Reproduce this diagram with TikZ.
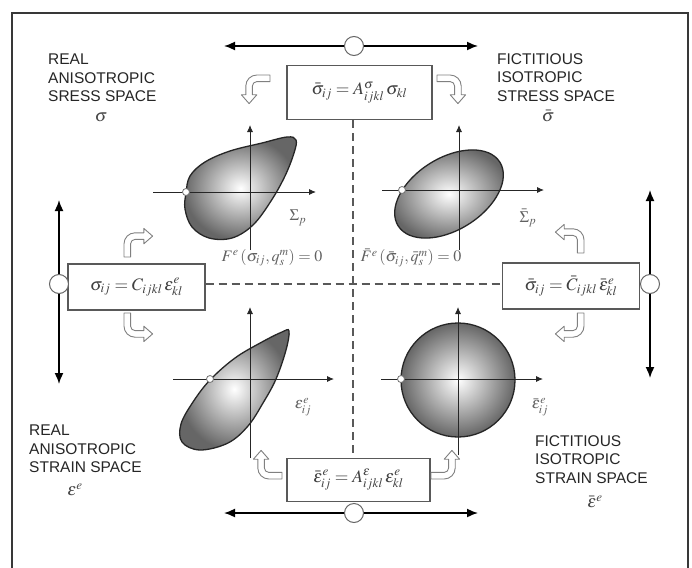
\documentclass[tikz,border=0pt]{standalone}
\usepackage{mathptmx}
\usepackage{fontspec}
\setmainfont{Liberation Sans}
\usetikzlibrary{arrows.meta}
\newcommand\eqfont{\fontsize{17.5}{20}\selectfont}
\begin{document}
\begin{tikzpicture}[x=1pt,y=-1pt,
  frameline/.style={draw=black!78,line width=1.5pt},
  dblarrow/.style={draw=black,line width=1.6pt,{Latex[length=11pt,width=9pt]}-{Latex[length=11pt,width=9pt]}},
  knob/.style={circle,draw=black!60,fill=white,line width=1pt,minimum size=19pt,inner sep=0pt},
  eqbox/.style={draw=black!65,fill=white,line width=1.3pt,inner sep=0pt,text=black!75,font=\eqfont},
  axisline/.style={draw=black!85,line width=0.9pt,-{Latex[length=7pt,width=6pt]}},
  surf/.style={draw=black!85,line width=1.3pt,inner color=white,outer color=black!60},
  ptmark/.style={circle,draw=black!55,fill=white,line width=0.8pt,minimum size=7pt,inner sep=0pt},
  dashline/.style={draw=black!65,line width=1.6pt,dash pattern=on 8pt off 5pt},
  bent/.style={draw=black!50,fill=white,line width=0.9pt,line join=round},
  spacelabel/.style={font=\fontsize{15.5}{18.5}\selectfont,text=black!85,align=left,anchor=north west,inner sep=0pt},
  symlabel/.style={text=black!72,font=\eqfont,inner sep=0pt},
  plotlabel/.style={text=black!62,font=\fontsize{16}{18}\selectfont,inner sep=0pt},
  flabel/.style={text=black!62,font=\fontsize{16}{18}\selectfont,inner sep=0pt},
  bentarrow/.pic={\draw[bent] (0,0) -- (0,-12) .. controls (0,-17.5) and (4.5,-22) .. (10,-22) -- (18,-22) -- (18,-26) -- (26,-19) -- (18,-12) -- (18,-16) -- (10,-16) .. controls (7.8,-16) and (6,-14.2) .. (6,-12) -- (6,0) -- cycle;}
]
\useasboundingbox (0,0) rectangle (692,567);
\fill[white] (0,0) rectangle (692,567);
\clip (0,0) rectangle (692,567);
% frame
\draw[frameline] (12,13) rectangle (688,600);

% boxes (nodes)
\node[eqbox,minimum width=145pt,minimum height=54pt] (tbox) at (359.5,92.5) {$\bar\sigma_{ij} = A^{\sigma}_{ijkl}\,\sigma_{kl}$};
\node[eqbox,minimum width=137pt,minimum height=46pt] (lbox) at (136.5,287) {$\sigma_{ij} = C_{ijkl}\,\varepsilon^{e}_{kl}$};
\node[eqbox,minimum width=137pt,minimum height=46pt] (rbox) at (571,286) {$\bar\sigma_{ij} = \bar C_{ijkl}\,\bar\varepsilon^{e}_{kl}$};
\node[eqbox,minimum width=143pt,minimum height=43pt] (bbox) at (358.5,480) {$\bar\varepsilon^{e}_{ij} = A^{\varepsilon}_{ijkl}\,\varepsilon^{e}_{kl}$};

% dashed lines
\coordinate (vl) at (353,0);
\coordinate (hl) at (0,284);
\draw[dashline] (tbox.south -| vl) -- (bbox.north -| vl);
\draw[dashline] (lbox.east |- hl) -- (rbox.west |- hl);

% surfaces
\shadedraw[surf] plot[smooth cycle,tension=0.6] coordinates {(186,193) (190,176) (205,162) (230,151) (262,143) (287,137) (296,140) (294,153) (285,176) (271,201) (253,225) (232,238) (209,238) (192,227) (185,209)};
\shadedraw[surf,rotate around={32:(449,194)}] (449,194) ellipse [x radius=60pt,y radius=36pt];
\shadedraw[surf] plot[smooth cycle,tension=0.6] coordinates {(289,331) (286,350) (276,379) (263,403) (248,426) (228,443) (200,450) (182,442) (181,424) (193,402) (210,380) (235,358) (262,342) (282,332)};
\shadedraw[surf] (458,380) circle [radius=57pt];

% axes
\coordinate (a1b) at (250,250); \coordinate (a1t) at (250,125);
\coordinate (a1l) at (153,192); \coordinate (a1r) at (316,192);
\coordinate (a2b) at (459,250); \coordinate (a2t) at (459,125);
\coordinate (a2l) at (382,190); \coordinate (a2r) at (544,190);
\coordinate (a3b) at (250,458); \coordinate (a3t) at (250,307);
\coordinate (a3l) at (173,379); \coordinate (a3r) at (334,379);
\coordinate (a4b) at (458,455); \coordinate (a4t) at (458,307);
\coordinate (a4l) at (381,379); \coordinate (a4r) at (543,379);
\draw[axisline] (a1b) -- (a1t); \draw[axisline] (a1l) -- (a1r);
\draw[axisline] (a2b) -- (a2t); \draw[axisline] (a2l) -- (a2r);
\draw[axisline] (a3b) -- (a3t); \draw[axisline] (a3l) -- (a3r);
\draw[axisline] (a4b) -- (a4t); \draw[axisline] (a4l) -- (a4r);

% markers
\node[ptmark] (m1) at (186,192) {};
\node[ptmark] (m2) at (402,190) {};
\node[ptmark] (m3) at (210,379) {};
\node[ptmark] (m4) at (401,379) {};

% bent arrows
\pic[scale=1.1,rotate=90,xscale=-1] at (270,75) {bentarrow};
\pic[scale=1.1,rotate=-90] at (437,75) {bentarrow};
\pic[scale=1.1] at (124,257) {bentarrow};
\pic[scale=1.1,yscale=-1] at (124,313) {bentarrow};
\pic[scale=1.1,xscale=-1] at (584,253) {bentarrow};
\pic[scale=1.1,xscale=-1,yscale=-1] at (584,313) {bentarrow};
\pic[scale=1.1,rotate=90] at (282,479) {bentarrow};
\pic[scale=1.1,rotate=-90,xscale=-1] at (431,479) {bentarrow};

% double arrows with knobs
\coordinate (tl) at (224,46); \coordinate (tr) at (478,46);
\coordinate (bl) at (224,513); \coordinate (br) at (478,513);
\coordinate (lt) at (59,200); \coordinate (lb) at (59,384);
\coordinate (rt) at (650,190); \coordinate (rb) at (650,378);
\draw[dblarrow] (tl) -- (tr);
\draw[dblarrow] (bl) -- (br);
\draw[dblarrow] (lt) -- (lb);
\draw[dblarrow] (rt) -- (rb);
\node[knob] (kt) at (354,46) {};
\node[knob] (kb) at (354,513) {};
\node[knob] (kl) at (59,284) {};
\node[knob] (kr) at (650,284) {};

% space labels
\node[spacelabel] (s1) at (48,54) {REAL\\ANISOTROPIC\\SRESS SPACE};
\node[spacelabel] (s2) at (497,53) {FICTITIOUS\\ISOTROPIC\\STRESS SPACE};
\node[spacelabel] (s3) at (29,425) {REAL\\ANISOTROPIC\\STRAIN SPACE};
\node[spacelabel] (s4) at (535,435) {FICTITIOUS\\ISOTROPIC\\STRAIN SPACE};
\node[symlabel] (y1) at (101,117) {$\sigma$};
\node[symlabel] (y2) at (548,116) {$\bar\sigma$};
\node[symlabel] (y3) at (75,490) {$\varepsilon^{e}$};
\node[symlabel] (y4) at (595,502) {$\bar\varepsilon^{e}$};

% plot labels
\node[plotlabel] (p1) at (298,218) {$\Sigma_{p}$};
\node[plotlabel] (p2) at (528,218) {$\bar\Sigma_{p}$};
\node[plotlabel] (p3) at (303,407) {$\varepsilon^{e}_{ij}$};
\node[plotlabel] (p4) at (540,407) {$\bar\varepsilon^{e}_{ij}$};
\node[flabel] (f1) at (272,258) {$F^{e}\,(\sigma_{ij},q^{m}_{s})=0$};
\node[flabel] (f2) at (411,258) {$\bar F^{e}\,(\bar\sigma_{ij},\bar q^{m}_{s})=0$};
\end{tikzpicture}
\end{document}
